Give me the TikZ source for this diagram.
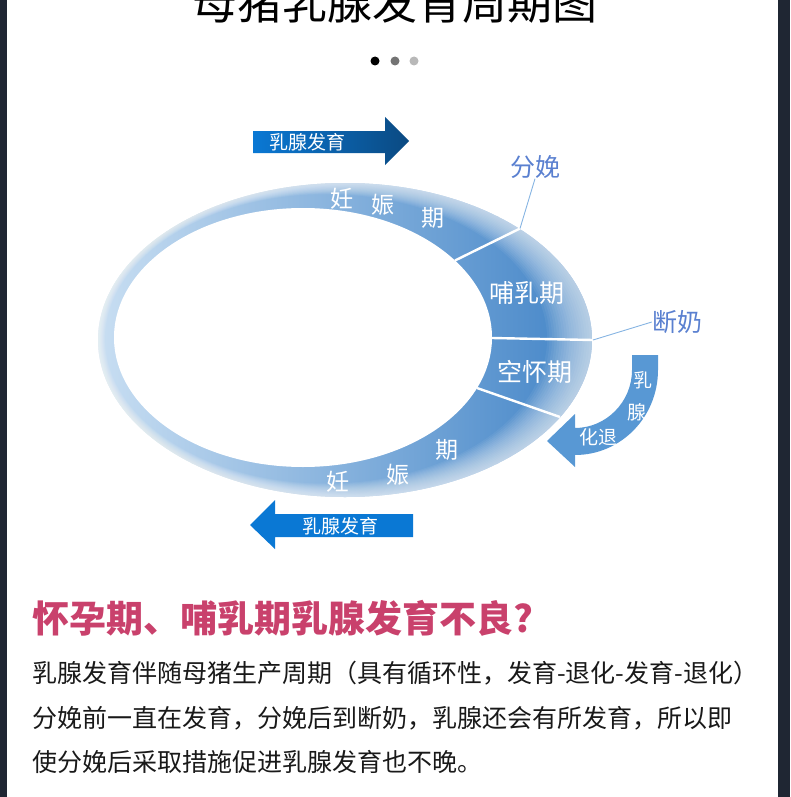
\documentclass[tikz,border=0pt]{standalone}
\usepackage{fontspec}
\newfontfamily\cjk{Noto Sans CJK SC}
\usetikzlibrary{positioning}
\definecolor{ringlight}{HTML}{C8DEF2}
\definecolor{ringmid}{HTML}{96BDE5}
\definecolor{ringdark}{HTML}{4284C7}
\definecolor{arrowblue}{HTML}{0A78D4}
\definecolor{arrownavy}{HTML}{0B4A82}
\definecolor{backblue}{HTML}{5898D4}
\definecolor{labelblue}{HTML}{5A80D0}
\definecolor{leaderblue}{HTML}{86B4E2}
\definecolor{headpink}{HTML}{C9416C}
\definecolor{sideframe}{HTML}{1F2633}
\newcommand{\pxsize}[1]{\fontsize{#1}{#1}\selectfont}

\begin{document}
\begin{tikzpicture}[x=1pt, y=-1pt,
  ringtext/.style={text=white, font=\cjk\pxsize{23}, inner sep=0pt},
  stagetext/.style={text=labelblue, font=\cjk\pxsize{25}, inner sep=0pt},
  bodytext/.style={text=black!90, font=\cjk\pxsize{25}, anchor=west, inner sep=0pt},
  dotmark/.style={circle, inner sep=0pt, minimum size=9pt},
  divider/.style={draw=white, line width=2.4pt},
  leader/.style={draw=leaderblue, line width=0.9pt}]
\useasboundingbox (0,0) rectangle (790,797);
\clip (0,0) rectangle (790,797);
\fill[sideframe] (0,0) rectangle (7,797);
\fill[sideframe] (778,0) rectangle (790,797);

% title, cut at the top edge
\node (title) at (395,2) [font=\cjk\pxsize{45}] {母猪乳腺发育周期图};
\node (dotA) at (375,61) [dotmark, fill=black] {};
\node (dotB) at (395,61) [dotmark, fill=black!55] {};
\node (dotC) at (414,61) [dotmark, fill=black!28] {};

% ring
\coordinate (outerC) at (345,340);
\coordinate (innerC) at (303,337.5);
\shade[left color=ringlight, middle color=ringmid, right color=ringdark]
  (outerC) ellipse [x radius=247, y radius=157];
\foreach \k in {1,...,18} {
  \pgfmathsetmacro\t{\k*0.025}
  \pgfmathsetmacro\cx{345-42*\t}
  \pgfmathsetmacro\cy{340-2.5*\t}
  \pgfmathsetmacro\rx{247-58*\t}
  \pgfmathsetmacro\ry{157-27.5*\t}
  \fill[white, opacity=0.055, even odd rule] (outerC) ellipse [x radius=247, y radius=157]
    (\cx,\cy) ellipse [x radius=\rx, y radius=\ry];
}
\fill[white] (innerC) ellipse [x radius=189, y radius=129.5];

% stage borders
\coordinate (birthIn) at (455,260.5);
\coordinate (birthOut) at (520,228.5);
\coordinate (weanIn) at (492,338);
\coordinate (weanOut) at (593,340);
\coordinate (emptyIn) at (477,388);
\coordinate (emptyOut) at (560,417);
\draw[divider] (birthIn) -- (birthOut);
\draw[divider] (weanIn) -- (weanOut);
\draw[divider] (emptyIn) -- (emptyOut);

% stage names in the ring
\node (renA) at (342,199) [ringtext] {妊};
\node (shenA) at (383,205) [ringtext] {娠};
\node (qiA) at (433,218) [ringtext] {期};
\node (buru) at (527,293) [ringtext, font=\cjk\pxsize{25}] {哺乳期};
\node (konghuai) at (535,372) [ringtext, font=\cjk\pxsize{25}] {空怀期};
\node (qiB) at (447,450) [ringtext] {期};
\node (shenB) at (398,475) [ringtext] {娠};
\node (renB) at (338,482) [ringtext] {妊};

% events
\node (fenmian) at (535,167) [stagetext] {分娩};
\node (duannai) at (677,322) [stagetext] {断奶};
\draw[leader] (birthOut) -- (fenmian.south);
\draw[leader] (weanOut) -- (duannai.west);

% development arrows
\shade[left color=arrowblue, right color=arrownavy]
  (253,131) -- (385,131) -- (385,117) -- (409,141) -- (385,165) -- (385,153) -- (253,153) -- cycle;
\node (growA) at (307,142) [ringtext, font=\cjk\pxsize{19}] {乳腺发育};
\fill[arrowblue]
  (413,514) -- (275,514) -- (275,500) -- (250,525) -- (275,549) -- (275,537) -- (413,537) -- cycle;
\node (growB) at (340,526) [ringtext, font=\cjk\pxsize{19}] {乳腺发育};

% regression arrow
\fill[backblue] (632,355) -- (658,355) -- (658,370)
  .. controls (658,417) and (621,455) .. (575,455) -- (575,467) -- (547,441) -- (575,414) -- (575,428)
  .. controls (606,428) and (632,402) .. (632,370) -- cycle;
\node (ruB) at (643,380) [ringtext, font=\cjk\pxsize{19}] {乳};
\node (xianB) at (637,412) [ringtext, font=\cjk\pxsize{19}] {腺};
\node (huatui) at (598,437) [ringtext, font=\cjk\pxsize{19}] {化退};

% text below
\node (question) at (32,618) [anchor=west, inner sep=0pt, text=headpink, font=\cjk\bfseries\pxsize{37}] {怀孕期、哺乳期乳腺发育不良?};
\node (lineA) at (32,673) [bodytext] {乳腺发育伴随母猪生产周期（具有循环性，发育-退化-发育-退化）};
\node (lineB) [below=45pt of lineA.west, bodytext] {分娩前一直在发育，分娩后到断奶，乳腺还会有所发育，所以即};
\node (lineC) [below=44pt of lineB.west, bodytext] {使分娩后采取措施促进乳腺发育也不晚。};
\end{tikzpicture}
\end{document}
